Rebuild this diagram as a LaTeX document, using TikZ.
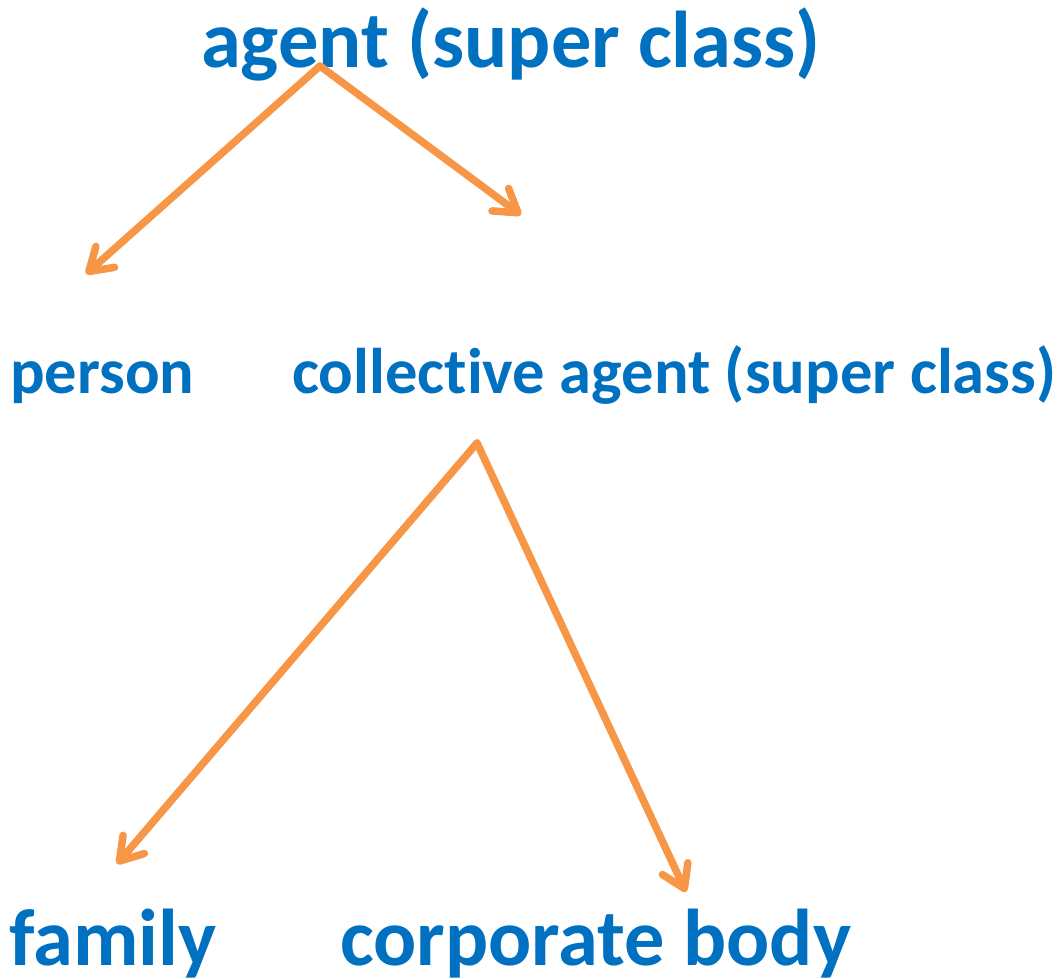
\documentclass[tikz,border=0pt]{standalone}
\usepackage{fontspec}
\setmainfont[Ligatures=NoCommon]{Carlito}
\usetikzlibrary{arrows.meta}
\definecolor{txtblue}{HTML}{0070C0}
\definecolor{arrorange}{HTML}{F79646}
\tikzset{
  lbl/.style={anchor=base west, inner sep=0pt, text=txtblue, font=\bfseries},
  big/.style={lbl, font=\fontsize{80.5}{90}\selectfont\bfseries},
  mid/.style={lbl, font=\fontsize{64.5}{72}\selectfont\bfseries},
  link/.style={draw=arrorange, line width=7.5pt, line cap=round,
    -{Straight Barb[round, length=22pt, width=28pt]}}
}
\begin{document}
\begin{tikzpicture}[x=1pt,y=-1pt]
\useasboundingbox (0,0) rectangle (1057,979);
\node[big] (agent) at (201,68) {agent (super class)};
\node[mid] (person) at (10,393) {person};
\node[mid] (coll) at (292,393) {collec\kern0pt tive agent (super class)};
\node[big] (family) at (9,965) {family};
\node[big] (corp) at (340,965) {corporate body};
\coordinate (a0) at (320,66);
\coordinate (pEnd) at (86,274);
\coordinate (cEnd) at (521,215);
\coordinate (c0) at (477,443);
\coordinate (fEnd) at (117,864);
\coordinate (bEnd) at (686,892);
\draw[link] (a0) -- (pEnd);
\draw[link] (a0) -- (cEnd);
\draw[link] (c0) -- (fEnd);
\draw[link] (c0) -- (bEnd);
\end{tikzpicture}
\end{document}
